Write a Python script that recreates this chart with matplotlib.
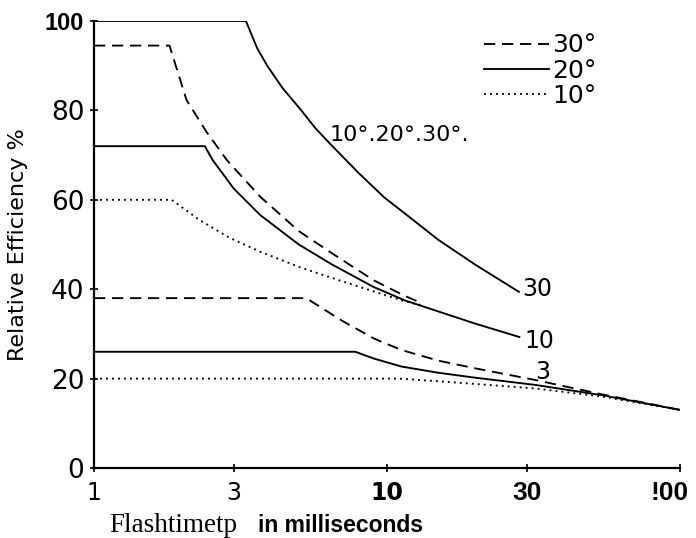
import matplotlib
matplotlib.use('Agg')
import matplotlib.pyplot as plt
from matplotlib.transforms import offset_copy

# 闪光时间 (ms) 与相对效率 (%)
# 上面一组：10°,20°,30° 共用的上包络线（标 30）
t_top = [1, 3.3, 3.6, 3.9, 4.4, 5.1, 5.7, 6.4, 8, 9.8, 12, 15, 20, 28.2]
e_top = [100, 100, 94, 90, 85, 80, 76, 72.5, 66, 60.5, 56, 51, 45.5, 39.4]

# 中间一组（标 10）
t_30a = [1, 1.81, 2.07, 2.42, 2.84, 3.69, 5, 6.5, 9, 11.5, 13]
e_30a = [94.5, 94.5, 82.3, 75.2, 68.9, 60.7, 53, 48, 42, 38.5, 37]
t_20a = [1, 2.39, 2.54, 3.0, 3.69, 5, 6.5, 9, 11.5, 15, 20, 28.3]
e_20a = [72, 72, 68.9, 62.5, 56.6, 50, 45.5, 40.5, 37.5, 35, 32.3, 29.3]
t_10a = [1, 1.84, 2.29, 2.9, 3.69, 5, 6.5, 9, 11.5, 13]
e_10a = [60, 60, 55.5, 51.5, 48.4, 45, 42.5, 39.5, 37.3, 36.5]

# 下面一组（标 3）
t_30b = [1, 5.3, 7, 9, 11.2, 15, 20, 32, 54, 100]
e_30b = [38, 38, 33, 29, 26.4, 24, 22.3, 19.7, 16.5, 13]
t_20b = [1, 7.8, 9, 11.2, 15, 20, 32, 54, 100]
e_20b = [26, 26, 24.5, 22.7, 21.3, 20.2, 18.6, 16.3, 13]
t_10b = [1, 11, 15, 20, 32, 54, 100]
e_10b = [20, 20, 19.4, 18.8, 17.8, 16, 13]

xticks = [1, 3, 10, 30, 100]
xlabels = ['1', '3', '10', '30', '!00']
yticks = [0, 20, 40, 60, 80, 100]
ylabels = ['0', '20', '40', '60', '80', '100']

dash = (0, (6, 3.6))
dot = (0, (1, 2.2))
lw = 1.35

fig = plt.figure(figsize=(6.96, 5.38), dpi=100)
ax = fig.add_axes([94 / 696, 70 / 538, 586 / 696, 447 / 538])

ax.plot(t_top, e_top, color='black', lw=lw)
h30, = ax.plot(t_30a, e_30a, color='black', lw=lw, linestyle=dash)
h20, = ax.plot(t_20a, e_20a, color='black', lw=lw)
h10, = ax.plot(t_10a, e_10a, color='black', lw=lw, linestyle=dot)
ax.plot(t_30b, e_30b, color='black', lw=lw, linestyle=dash)
ax.plot(t_20b, e_20b, color='black', lw=lw)
ax.plot(t_10b, e_10b, color='black', lw=lw, linestyle=dot)

ax.set_xscale('log')
ax.set_xlim(1, 100)
ax.set_ylim(0, 100)
ax.set_xticks(xticks)
ax.set_xticklabels(xlabels)
ax.minorticks_off()
ax.set_yticks(yticks)
ax.set_yticklabels(ylabels)

for s in ['top', 'right']:
    ax.spines[s].set_visible(False)
for s in ['left', 'bottom']:
    ax.spines[s].set_linewidth(1.6)
ax.tick_params(axis='both', direction='inout', length=6, width=1.2)
ax.tick_params(axis='x', pad=6)
ax.tick_params(axis='y', pad=4)

# 刻度字体各不相同（扫描原图）
xl = ax.get_xticklabels()
for lab in xl[:2]:
    lab.set_fontfamily('DejaVu Sans')
    lab.set_fontsize(17)
xl[2].set_fontfamily('Liberation Sans Narrow')
xl[2].set_fontweight('bold')
xl[2].set_fontsize(17)
for lab in xl[3:]:
    lab.set_fontfamily('Liberation Sans')
    lab.set_fontweight('bold')
    lab.set_fontsize(19)
xl[-1].set_transform(offset_copy(xl[-1].get_transform(), fig=fig, x=-10, y=0, units='dots'))
yl = ax.get_yticklabels()
for lab in yl[:-1]:
    lab.set_fontfamily('DejaVu Sans')
    lab.set_fontsize(19)
yl[-1].set_fontfamily('Liberation Sans')
yl[-1].set_fontweight('bold')
yl[-1].set_fontsize(17)

ax.set_ylabel('Relative Efficiency %', fontsize=16, family='DejaVu Sans', labelpad=12)
fig.text(109 / 696, 1 - 525 / 538, 'Flashtimetp', family='Liberation Serif',
         fontsize=19.5, va='center', ha='left')
fig.text(258 / 696, 1 - 525 / 538, 'in milliseconds', family='Liberation Sans',
         fontweight='bold', fontsize=16.5, va='center', ha='left')

ax.legend([h30, h20, h10], ['30°', '20°', '10°'], loc='upper left',
          bbox_to_anchor=(0.645, 1.0), frameon=False, fontsize=18,
          handlelength=2.6, handletextpad=0.1, labelspacing=0.05, borderpad=0)

ax.text(10 ** ((330 - 94) / 293), (468 - 135) / 4.47, '10°.20°.30°.', fontsize=16,
        va='center', ha='left')
ax.text(29, 40, '30', fontsize=17, va='center', ha='left')
ax.text(29.5, 28.5, '10', fontsize=17, va='center', ha='left')
ax.text(32, 21.5, '3', fontsize=17, va='center', ha='left')

fig.savefig('out.png', dpi=100)
